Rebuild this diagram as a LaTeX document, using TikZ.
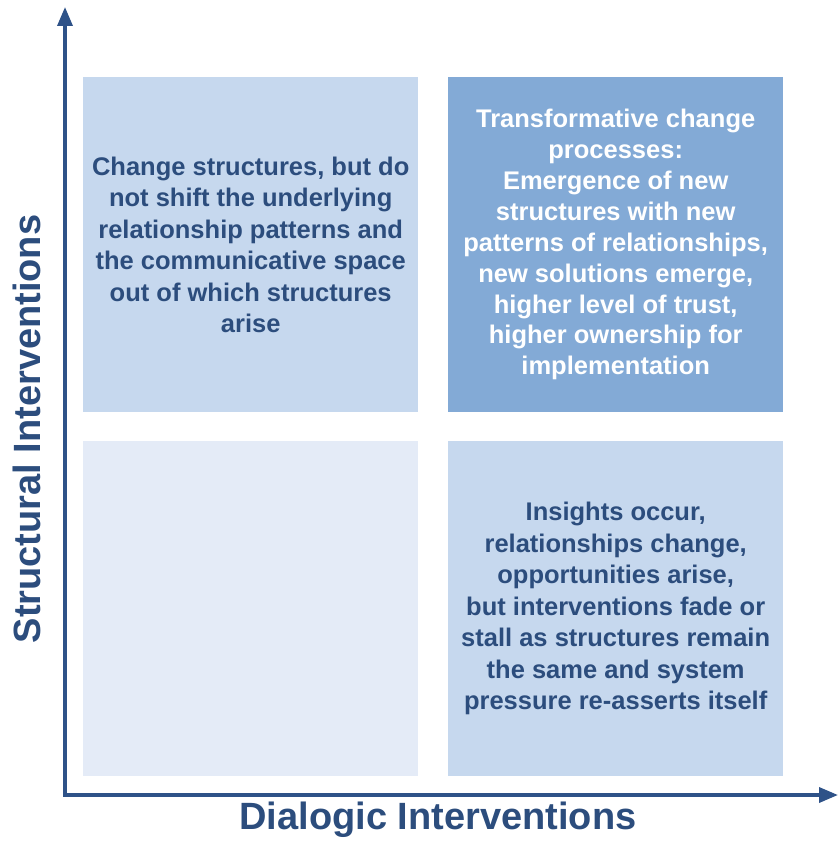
\documentclass[tikz,border=0pt]{standalone}
\usepackage{fontspec}
\setmainfont{Liberation Sans}
\usetikzlibrary{arrows.meta}
\definecolor{axisblue}{RGB}{46,82,136}
\definecolor{textblue}{RGB}{44,77,125}
\definecolor{lightbox}{RGB}{198,216,238}
\definecolor{darkbox}{RGB}{131,170,214}
\definecolor{palebox}{RGB}{228,235,247}
\begin{document}
\begin{tikzpicture}[x=1pt,y=-1pt,
  quad/.style={minimum width=335pt,minimum height=335pt,inner sep=0pt,anchor=north west,align=center,text=textblue,font=\fontsize{25.5}{31.5}\selectfont\bfseries},
  axis/.style={{Triangle[length=19pt,width=15pt]}-{Triangle[length=19pt,width=15pt]},draw=axisblue,line width=3.5pt},
  axlabel/.style={text=textblue,font=\fontsize{38}{42}\selectfont\bfseries}]
\useasboundingbox (0,0) rectangle (839,843);
% quadrants
\node[quad,fill=lightbox] (tl) at (83,77) {Change structures, but do\\not shift the underlying\\relationship patterns and\\the communicative space\\out of which structures\\arise};
\node[quad,fill=darkbox,text=white,font=\fontsize{25.5}{30.9}\selectfont\bfseries] (tr) at (448,77) {Transformative change\\processes:\\Emergence of new\\structures with new\\patterns of relationships,\\new solutions emerge,\\higher level of trust,\\higher ownership for\\implementation};
\node[quad,fill=palebox] (bl) at (83,441) {};
\node[quad,fill=lightbox] (br) at (448,441) {Insights occur,\\relationships change,\\opportunities arise,\\but interventions fade or\\stall as structures remain\\the same and system\\pressure re-asserts itself};
% axes
\coordinate (origin) at (65,795);
\coordinate (ytip) at (65,7);
\coordinate (xtip) at (838,795);
\draw[axis] (ytip) -- (origin) -- (xtip);
\node[axlabel] (xlab) at (438,820) {Dialogic Interventions};
\node[axlabel,rotate=90] (ylab) at (27,429) {Structural Interventions};
\end{tikzpicture}
\end{document}
